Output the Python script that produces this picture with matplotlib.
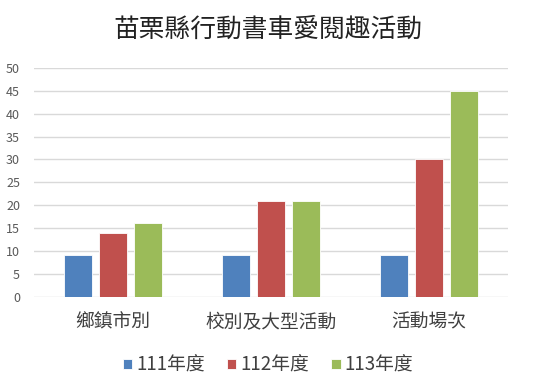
import numpy as np
import matplotlib
matplotlib.use("Agg")
import matplotlib.pyplot as plt

plt.rcParams["font.family"] = ["Noto Sans CJK TC", "DejaVu Sans"]

# ── Data ──────────────────────────────────────────────────────────────────────
categories = ["鄉鎮市別", "校別及大型活動", "活動場次"]
series_names = ["111年度", "112年度", "113年度"]
vals_111 = [9, 9, 9]
vals_112 = [14, 21, 30]
vals_113 = [16, 21, 45]
colors = ["#4F81BD", "#C0504D", "#9BBB59"]

# ── Plot ──────────────────────────────────────────────────────────────────────
fig = plt.figure(figsize=(5.36, 3.90), dpi=100)
ax = fig.add_axes([34 / 536, 1 - 296.5 / 390, 474 / 536, 228.5 / 390])

x = np.arange(len(categories))
width = 0.178
step = 0.222
for i, (vals, name, c) in enumerate(zip([vals_111, vals_112, vals_113], series_names, colors)):
    ax.bar(x + (i - 1) * step, vals, width, color=c, label=name,
           edgecolor="white", linewidth=0.6, zorder=3)

ax.set_xlim(-0.5, len(categories) - 0.5)
ax.set_ylim(0, 50)
ax.set_yticks(range(0, 51, 5))
ax.yaxis.grid(True, color="#D9D9D9", linewidth=1.0, zorder=0)
ax.set_axisbelow(True)
for s in ax.spines.values():
    s.set_visible(False)
ax.tick_params(axis="y", length=0, labelsize=9, labelcolor="#595959", pad=10)
ax.tick_params(axis="x", length=0, labelsize=13.5, labelcolor="#404040", pad=11)
ax.set_xticks(x)
ax.set_xticklabels(categories)

fig.text(0.5, 1 - 30 / 390, "苗栗縣行動書車愛閱趣活動", ha="center", va="center",
         fontsize=18.5, color="#222222")

fig.legend(loc="center", bbox_to_anchor=(0.5, 1 - 365 / 390), ncol=3,
           frameon=False, fontsize=13.5, handlelength=0.5, handleheight=0.5,
           handletextpad=0.2, columnspacing=1.2, labelcolor="#404040")

plt.savefig("out.png", dpi=100)
